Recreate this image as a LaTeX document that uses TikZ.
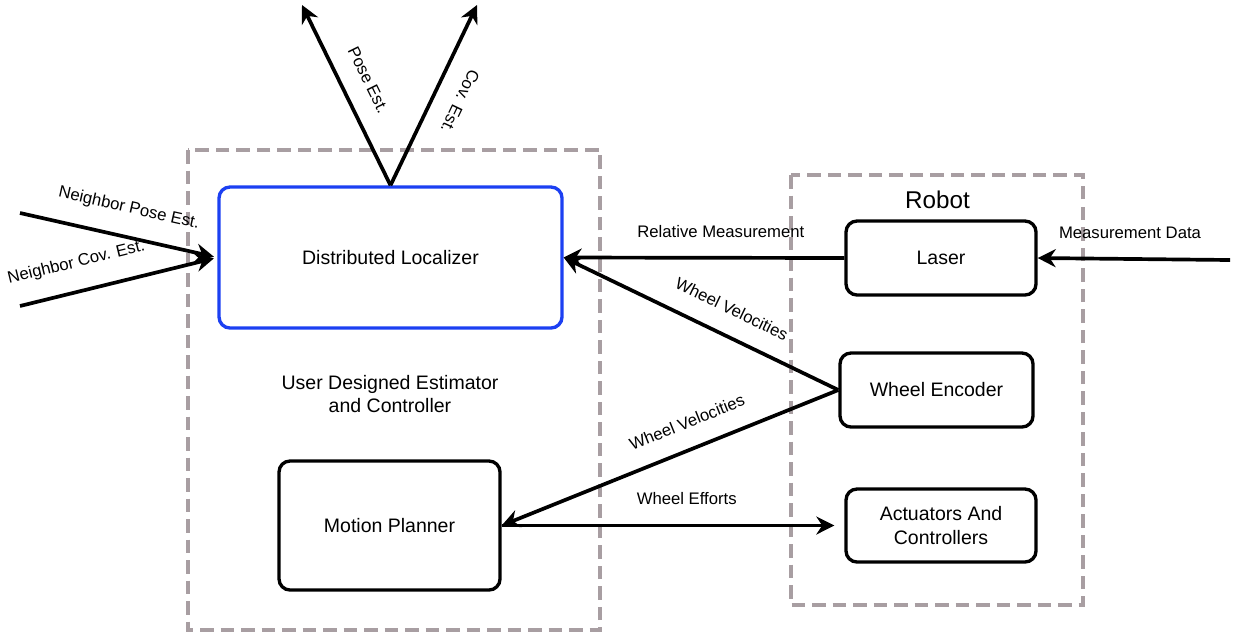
\documentclass[tikz,border=0pt]{standalone}
\usepackage{fontspec}
\setmainfont{Liberation Sans}
\usetikzlibrary{arrows.meta,positioning}
\definecolor{framegray}{HTML}{A89EA2}
\definecolor{locblue}{HTML}{1C40F2}
\tikzset{
	>={Stealth[length=0.36cm,width=0.36cm]},
	every edge/.style={draw=black, line width=2.1pt},
}

\begin{document}
\begin{tikzpicture}
	[font=\fontsize{11.1}{13.6}\selectfont,
		% STYLES
		% The block style is used for the software and hardware units
		block/.style={rectangle, draw, line width=1.9pt, rounded corners=0.22cm,
				align=center},
		% The frame style groups the units of one side
		frame/.style={draw=framegray, line width=1.8pt,
				dash pattern=on 0.27cm off 0.14cm},
		% The msg style is used to name the data on each arrow
		msg/.style={font=\fontsize{9.5}{11}\selectfont, inner sep=1pt, above=0.34cm}]

	\useasboundingbox (0,0) rectangle (24.98,-12.72);

	% Dashed frames
	\draw[frame] (3.76,-3.0) rectangle (12.0,-12.6);
	\draw[frame] (15.82,-3.5) rectangle (21.66,-12.1);

	% Estimator side
	\node [block, draw=locblue, minimum width=6.86cm, minimum height=2.82cm]
	(loc) at (7.81,-5.15) {Distributed Localizer};
	\node [block, minimum width=4.42cm, minimum height=2.58cm]
	(planner) at (7.79,-10.51) {Motion Planner};
	\node [align=center] (user) at (7.8,-7.88) {User Designed Estimator\\and Controller};

	% Robot side
	\node [font=\fontsize{13.8}{16}\selectfont] (robot) at (18.75,-4.0) {Robot};
	\node [block, minimum width=3.8cm, minimum height=1.48cm]
	(laser) at (18.82,-5.16) {Laser};
	\node [block, minimum width=3.86cm, minimum height=1.48cm]
	(encoder) at (18.73,-7.8) {Wheel Encoder};
	\node [block, minimum width=3.8cm, minimum height=1.46cm]
	(act) at (18.82,-10.51) {Actuators And\\Controllers};

	% Free ends
	\coordinate (poseout) at (6.04,-0.1);
	\coordinate (covout) at (9.54,-0.1);
	\coordinate (nbpose) at (0.4,-4.26);
	\coordinate (nbcov) at (0.4,-6.12);
	\coordinate (measin) at (24.6,-5.2);

	% Arrows
	\path[->]
	(loc.north) edge node[msg, sloped, pos=0.52] {Pose Est.} (poseout)
	(nbpose) edge[shorten >=2pt] node[msg, sloped, pos=0.52] {Neighbor Pose Est.} (loc.west)
	(nbcov) edge[shorten >=2pt] node[msg, sloped, pos=0.32] {Neighbor Cov. Est.} (loc.west)
	(laser.west) edge node[msg, pos=0.44] {Relative Measurement} (loc.east)
	(measin) edge node[msg, pos=0.52] {Measurement Data} (laser.east)
	(encoder.west) edge node[msg, sloped, pos=0.43] {Wheel Velocities} (loc.east)
	(encoder.west) edge node[msg, sloped, pos=0.42] {Wheel Velocities} (planner.east)
	(planner.east) edge[shorten >=0.2cm] node[msg, pos=0.54] {Wheel Efforts} (act.west);
	\path[<-]
	(covout) edge node[msg, sloped, allow upside down, pos=0.47] {Cov. Est.} (loc.north);

\end{tikzpicture}
\end{document}
